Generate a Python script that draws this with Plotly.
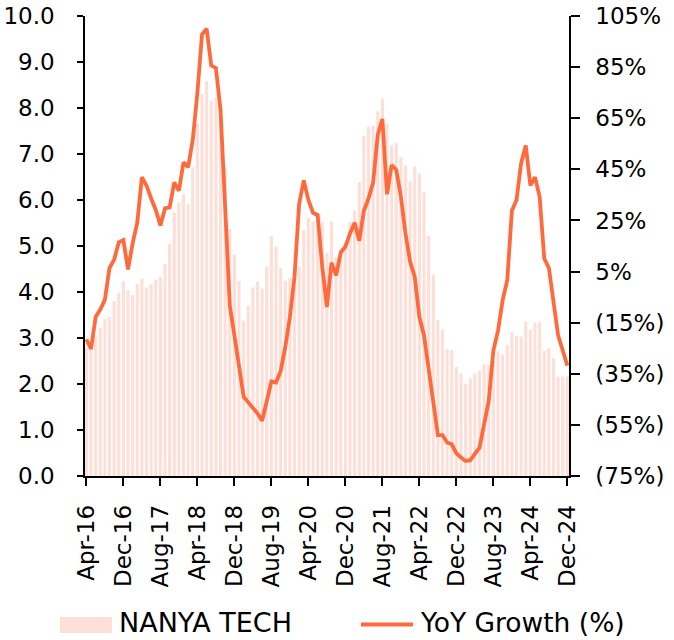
import pandas as pd
import plotly.graph_objects as go

# Monthly categories Apr-16 .. Dec-24
months = [d.strftime("%b-%y") for d in pd.date_range("2016-04-01", "2024-12-01", freq="MS")]

nanya_tech = [
    2.78, 2.80, 3.05, 3.22, 3.41, 3.46, 3.80, 3.98, 4.23, 4.04,
    3.94, 4.17, 4.29, 4.10, 4.17, 4.27, 4.33, 4.61, 5.05, 5.73,
    5.95, 6.12, 5.91, 6.71, 7.66, 8.30, 8.58, 8.15, 8.22, 7.70,
    6.72, 5.37, 4.81, 4.24, 3.38, 3.70, 4.10, 4.23, 4.07, 4.55,
    5.21, 4.99, 4.52, 4.24, 4.31, 4.40, 4.55, 5.34, 5.61, 5.54,
    5.55, 5.52, 4.85, 5.53, 4.76, 4.94, 5.10, 5.52, 5.77, 6.39,
    7.39, 7.59, 7.62, 7.93, 8.20, 7.66, 7.19, 7.24, 6.94, 6.75,
    6.41, 6.73, 6.57, 6.17, 5.22, 4.38, 3.40, 3.18, 2.76, 2.74,
    2.37, 2.23, 2.00, 2.12, 2.23, 2.29, 2.43, 2.41, 2.50, 2.71,
    2.64, 2.85, 3.13, 3.05, 3.03, 3.36, 3.18, 3.33, 3.34, 2.72,
    2.78, 2.56, 2.16, 2.16, 2.18,
]

yoy_growth = [
    -21.5, -25.3, -12.8, -9.9, -6.0, 6.4, 9.7, 16.4, 17.3, 5.8,
    16.0, 24.1, 41.9, 38.7, 33.6, 29.1, 23.0, 29.7, 30.1, 39.9,
    36.6, 47.8, 45.8, 56.5, 74.9, 97.8, 100.0, 85.6, 84.7, 68.3,
    30.4, -8.2, -20.0, -32.5, -44.0, -46.2, -48.2, -50.5, -53.4, -45.5,
    -38.0, -38.4, -34.0, -24.6, -12.8, 2.9, 31.4, 40.7, 33.0, 28.0,
    27.1, 6.8, -8.9, 8.5, 3.5, 12.4, 14.7, 19.9, 24.1, 17.0,
    28.8, 33.6, 39.8, 58.5, 64.7, 35.3, 46.7, 44.8, 34.3, 19.9,
    8.8, 2.9, -12.8, -20.0, -32.5, -45.5, -59.0, -59.0, -61.9, -62.6,
    -66.1, -67.8, -69.1, -68.8, -66.2, -63.9, -54.7, -45.5, -25.9, -18.1,
    -6.3, 1.6, 28.8, 33.0, 47.4, 54.3, 38.7, 41.9, 34.3, 10.1,
    6.4, -6.3, -20.0, -25.9, -31.8,
]

x_ticks = months[::8]
left_ticks = [0, 1, 2, 3, 4, 5, 6, 7, 8, 9, 10]
right_tickvals = [105, 85, 65, 45, 25, 5, -15, -35, -55, -75]
right_ticktext = ["105%", "85%", "65%", "45%", "25%", "5%", "(15%)", "(35%)", "(55%)", "(75%)"]

BAR_COLOR = "#FDDFD7"
LINE_COLOR = "#FF6A3D"
FONT = "DejaVu Sans"

fig = go.Figure()
fig.add_trace(go.Bar(x=months, y=nanya_tech, name="NANYA TECH",
                     marker=dict(color=BAR_COLOR, line=dict(width=0)),
                     showlegend=False))
fig.add_trace(go.Scatter(x=months, y=yoy_growth, name="YoY Growth (%)", yaxis="y2",
                         mode="lines", line=dict(color=LINE_COLOR, width=3.8),
                         showlegend=False))

W, H = 674, 640
L, R, T, B = 85, 105, 16, 164
pw, ph = W - L - R, H - T - B

def px(xp):
    return (xp - L) / pw

def py(yp):
    return (H - B - yp) / ph

# custom legend
fig.add_shape(type="rect", xref="paper", yref="paper",
              x0=px(60), x1=px(112), y0=py(633), y1=py(617),
              fillcolor=BAR_COLOR, line=dict(width=0))
fig.add_shape(type="line", xref="paper", yref="paper",
              x0=px(361), x1=px(413), y0=py(624.5), y1=py(624.5),
              line=dict(color=LINE_COLOR, width=4))
fig.add_annotation(text="NANYA TECH", xref="paper", yref="paper",
                   x=px(117), y=py(622.5), xanchor="left", yanchor="middle",
                   showarrow=False, font=dict(family=FONT, size=27, color="#000"))
fig.add_annotation(text="YoY Growth (%)", xref="paper", yref="paper",
                   x=px(418), y=py(622.5), xanchor="left", yanchor="middle",
                   showarrow=False, font=dict(family=FONT, size=26.5, color="#000"))

fig.update_layout(
    width=W, height=H,
    margin=dict(l=L, r=R, t=T, b=B, pad=0, autoexpand=False),
    paper_bgcolor="white", plot_bgcolor="white",
    font=dict(family=FONT, size=23, color="#000"),
    bargap=0.33,
    xaxis=dict(type="category", range=[-0.3, 104.35], automargin=False,
               tickmode="array", tickvals=x_ticks, ticktext=x_ticks,
               tickangle=-90, ticks="outside", ticklen=8, tickwidth=1.5, tickcolor="#000",
               showline=True, linecolor="#000", linewidth=1.5,
               showgrid=False, zeroline=False, ticklabelstandoff=10,
               tickfont=dict(family=FONT, size=23)),
    yaxis=dict(range=[0, 10], tickmode="array", tickvals=left_ticks, tickformat=".1f",
               automargin=False,
               ticks="outside", ticklen=6, tickwidth=1.5, tickcolor="#000",
               showline=True, linecolor="#000", linewidth=1.5,
               showgrid=False, zeroline=False, ticklabelstandoff=18),
    yaxis2=dict(range=[-75, 105], overlaying="y", side="right", automargin=False,
                tickmode="array", tickvals=right_tickvals, ticktext=right_ticktext,
                ticks="outside", ticklen=9, tickwidth=1.5, tickcolor="#000",
                showline=True, linecolor="#000", linewidth=1.5,
                showgrid=False, zeroline=False, ticklabelstandoff=11),
)

fig.write_html("out.html", config={"displayModeBar": False},
               post_script="document.body.style.margin='0';document.body.style.overflow='hidden';")
